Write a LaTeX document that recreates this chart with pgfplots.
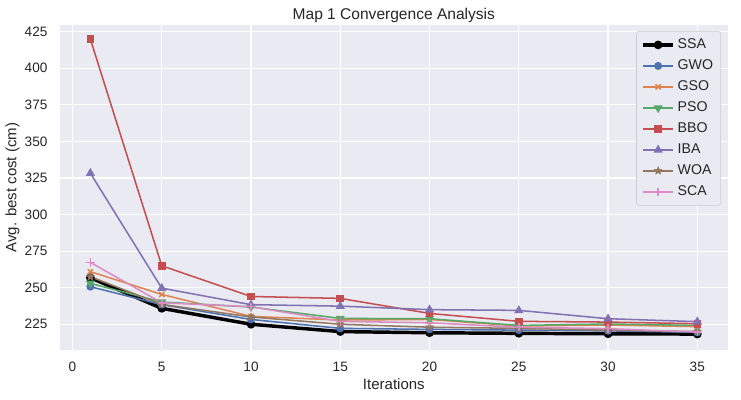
\documentclass[border=0pt]{standalone}
\usepackage{pgfplots}
\pgfplotsset{compat=1.18}
\usepackage{fontspec}
\setmainfont{Liberation Sans}

\definecolor{bgc}{HTML}{EAEAF2}
\definecolor{txt}{HTML}{262626}
\definecolor{cblue}{HTML}{4C72B0}
\definecolor{corange}{HTML}{DD8452}
\definecolor{cgreen}{HTML}{55A868}
\definecolor{cred}{HTML}{C44E52}
\definecolor{cpurple}{HTML}{8172B3}
\definecolor{cbrown}{HTML}{937860}
\definecolor{cpink}{HTML}{DA8BC3}

% filled five-pointed star
\pgfdeclareplotmark{fstar}{%
  \pgfpathmoveto{\pgfqpointpolar{90}{\pgfplotmarksize}}%
  \pgfpathlineto{\pgfqpointpolar{126}{0.45\pgfplotmarksize}}%
  \pgfpathlineto{\pgfqpointpolar{162}{\pgfplotmarksize}}%
  \pgfpathlineto{\pgfqpointpolar{198}{0.45\pgfplotmarksize}}%
  \pgfpathlineto{\pgfqpointpolar{234}{\pgfplotmarksize}}%
  \pgfpathlineto{\pgfqpointpolar{270}{0.45\pgfplotmarksize}}%
  \pgfpathlineto{\pgfqpointpolar{306}{\pgfplotmarksize}}%
  \pgfpathlineto{\pgfqpointpolar{342}{0.45\pgfplotmarksize}}%
  \pgfpathlineto{\pgfqpointpolar{18}{\pgfplotmarksize}}%
  \pgfpathlineto{\pgfqpointpolar{54}{0.45\pgfplotmarksize}}%
  \pgfpathclose\pgfusepathqfillstroke}

\begin{document}
\begin{tikzpicture}
\begin{axis}[
  name=ax,
  scale only axis,
  width=480.7pt, height=234pt,
  xmin=-0.7, xmax=36.7,
  ymin=207.4, ymax=429.6,
  xtick={0,5,...,35},
  ytick={225,250,...,425},
  axis background/.style={fill=bgc},
  axis line style={draw=none},
  major tick length=0pt,
  grid=major,
  major grid style={white, line width=0.9pt},
  tick label style={font=\fontsize{9.8}{11}\selectfont, text=txt},
  xticklabel style={yshift=-5pt},
  yticklabel style={xshift=-5.5pt},
  /pgf/number format/assume math mode=true,
  label style={font=\fontsize{10.8}{13}\selectfont, text=txt},
  xlabel style={at={(rel axis cs:0.5,-0.1046)}, anchor=center},
  ylabel style={at={(rel axis cs:-0.0711,0.5)}, anchor=center},
  title style={font=\fontsize{11.2}{13}\selectfont, text=txt,
    at={(0.5,1)}, anchor=base, yshift=-1.7pt},
  title={Map 1 Convergence Analysis},
  xlabel={Iterations},
  ylabel={Avg. best cost (cm)},
  every axis plot/.append style={line width=1.1pt},
  legend cell align=left,
  legend style={at={(0.99,0.9815)}, anchor=north east, fill=bgc,
    draw=black!20, rounded corners=2pt, font=\fontsize{10.2}{12}\selectfont,
    text=txt, row sep=2.5pt, inner sep=3.5pt},
  legend image code/.code={\draw[mark repeat=2,mark phase=2] plot coordinates {(0cm,0cm) (0.38cm,0cm) (0.76cm,0cm)};},
]
\addplot[black, line width=2.5pt, mark=*, mark size=1.8pt] coordinates {
  (1,256.8) (5,235.9) (10,225.0) (15,220.0) (20,219.2) (25,218.8) (30,218.5) (35,218.3)};
\addlegendentry{SSA}
\addplot[cblue, mark=*, mark size=2.3pt] coordinates {
  (1,250.7) (5,238.4) (10,228.3) (15,222.2) (20,221.5) (25,221.0) (30,220.5) (35,219.5)};
\addlegendentry{GWO}
\addplot[corange, mark=x, mark size=2.6pt] coordinates {
  (1,261.0) (5,245.4) (10,230.4) (15,227.9) (20,228.3) (25,223.8) (30,224.5) (35,223.4)};
\addlegendentry{GSO}
\addplot[cgreen, mark=triangle*, mark size=2.7pt, mark options={rotate=180}] coordinates {
  (1,253.0) (5,240.2) (10,236.8) (15,229.0) (20,228.8) (25,224.2) (30,225.2) (35,224.2)};
\addlegendentry{PSO}
\addplot[cred, mark=square*, mark size=2.2pt] coordinates {
  (1,420.0) (5,265.0) (10,244.0) (15,242.7) (20,232.4) (25,227.0) (30,226.5) (35,225.4)};
\addlegendentry{BBO}
\addplot[cpurple, mark=triangle*, mark size=2.7pt] coordinates {
  (1,328.3) (5,249.7) (10,238.4) (15,237.4) (20,235.0) (25,234.5) (30,228.8) (35,226.8)};
\addlegendentry{IBA}
\addplot[cbrown, mark=fstar, mark size=3pt, mark options={line width=0.3pt}] coordinates {
  (1,257.5) (5,238.6) (10,230.0) (15,225.0) (20,223.0) (25,222.2) (30,221.0) (35,220.0)};
\addlegendentry{WOA}
\addplot[cpink, mark=+, mark size=3pt] coordinates {
  (1,267.3) (5,239.7) (10,237.0) (15,227.0) (20,226.0) (25,223.0) (30,222.0) (35,219.7)};
\addlegendentry{SCA}
\end{axis}
\pgfresetboundingbox
\path ([xshift=-43.2pt,yshift=-35.3pt]ax.south west) rectangle ([xshift=9.6pt,yshift=18pt]ax.north east);
\end{tikzpicture}
\end{document}
